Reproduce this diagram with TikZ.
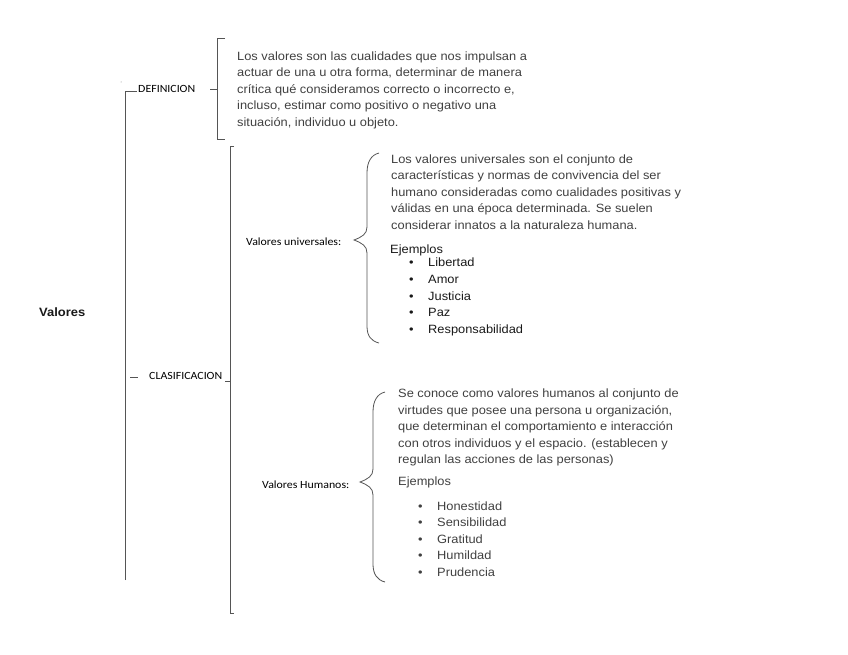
\documentclass[tikz,border=0pt]{standalone}
\usepackage{fontspec}
\setmainfont[FakeStretch=1.07]{Liberation Sans}
\newfontfamily\lblfont[FakeStretch=1.08]{Carlito}
\definecolor{txtgray}{HTML}{404040}
\definecolor{linegray}{HTML}{555555}
\begin{document}
\begin{tikzpicture}[x=1pt,y=-1pt,
  para/.style={anchor=north west,inner sep=0pt,align=left,text=txtgray,
    font=\fontsize{12}{16.5}\selectfont},
  blist/.style={anchor=north west,inner sep=0pt,align=left,
    font=\fontsize{12}{16.6}\selectfont},
  lbl/.style={anchor=base west,inner sep=0pt,font=\lblfont\fontsize{11}{13}\selectfont,text=black},
  brk/.style={draw=linegray,line width=0.9pt},
  brace/.style={draw=linegray,line width=0.8pt}]
\useasboundingbox (0,0) rectangle (848,655);

% root
\node[anchor=base west,inner sep=0pt,font=\bfseries\fontsize{12.1}{15}\selectfont,text=black!90] (valores) at (39,316) {Valores};

% main left bracket
\coordinate (mtop) at (125,91);
\coordinate (mbot) at (125,580);
\draw[brk] (mbot) -- (mtop) -- (137,91);
\fill[gray] (121,82) circle (0.5);

% DEFINICION
\node[lbl] (def) at (138,93) {DEFINICION};
\coordinate (dtop) at (225,38);
\coordinate (dbot) at (225,139);
\draw[brk] (dtop) -- (217,38) -- (217,139) -- (dbot);
\draw[brk] (210,89) -- (217,89);
\node[para] (deftext) at (237,48.45) {\strut Los valores son las cualidades que nos impulsan a\\
actuar de una u otra forma, determinar de manera\\
crítica qué consideramos correcto o incorrecto e,\\
incluso, estimar como positivo o negativo una\\
situación, individuo u objeto.};

% CLASIFICACION
\draw[brk] (130,377) -- (138,377);
\node[lbl] (clas) at (149,379.5) {CLASIFICACION};
\coordinate (ctop) at (234,146);
\coordinate (cbot) at (234,613);
\draw[brk] (ctop) -- (230,146) -- (230,613) -- (cbot);
\draw[brk] (225,381) -- (230,381);

% Valores universales
\node[lbl] (vu) at (246,245.5) {Valores universales:};
\draw[brace] (379,153) .. controls (371,155) and (367,162) .. (367,173) -- (367,227)
  .. controls (367,234) and (362,237) .. (354,240)
  .. controls (362,243) and (367,246) .. (367,253) -- (367,326)
  .. controls (367,336) and (371,341) .. (379,343);
\node[para] (vutext) at (391,151.45) {\strut Los valores universales son el conjunto de\\
características y normas de convivencia del ser\\
humano consideradas como cualidades positivas y\\
válidas en una época determinada. Se suelen\\
considerar innatos a la naturaleza humana.};
\node[anchor=base west,inner sep=0pt,font=\fontsize{12}{16.5}\selectfont,text=black!90] (vuej) at (390,253) {Ejemplos};
\node[blist,text=black!90] (vulist) at (409,255.08) {\strut\makebox[19pt][l]{•}Libertad\\
\makebox[19pt][l]{•}Amor\\
\makebox[19pt][l]{•}Justicia\\
\makebox[19pt][l]{•}Paz\\
\makebox[19pt][l]{•}Responsabilidad};

% Valores Humanos
\node[lbl] (vh) at (262,488.5) {Valores Humanos:};
\draw[brace] (385,392) .. controls (377,394) and (373,401) .. (373,412) -- (373,469)
  .. controls (373,476) and (368,479) .. (360,482)
  .. controls (368,485) and (373,488) .. (373,495) -- (373,564)
  .. controls (373,574) and (377,580) .. (385,582);
\node[para] (vhtext) at (398,385.75) {\strut Se conoce como valores humanos al conjunto de\\
virtudes que posee una persona u organización,\\
que determinan el comportamiento e interacción\\
con otros individuos y el espacio. (establecen y\\
regulan las acciones de las personas)};
\node[anchor=base west,inner sep=0pt,font=\fontsize{12}{16.5}\selectfont,text=txtgray] (vhej) at (398,485) {Ejemplos};
\node[blist,text=txtgray,font=\fontsize{12}{16.5}\selectfont] (vhlist) at (418,498.45) {\strut\makebox[19pt][l]{•}Honestidad\\
\makebox[19pt][l]{•}Sensibilidad\\
\makebox[19pt][l]{•}Gratitud\\
\makebox[19pt][l]{•}Humildad\\
\makebox[19pt][l]{•}Prudencia};
\end{tikzpicture}
\end{document}
